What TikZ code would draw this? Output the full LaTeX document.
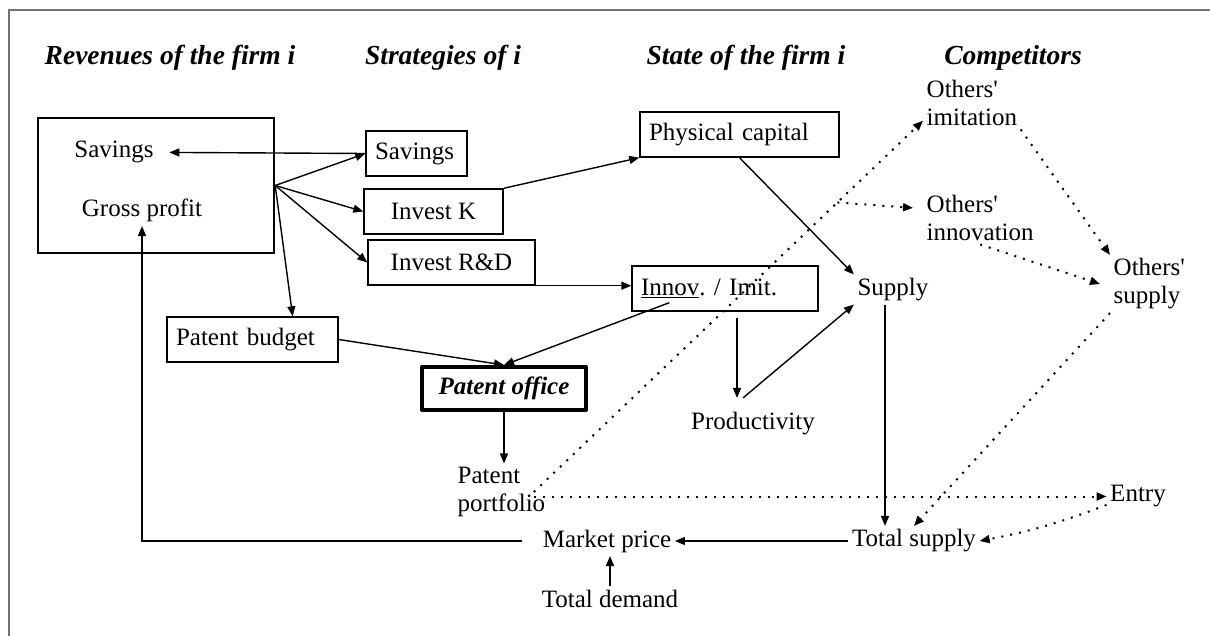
\documentclass[tikz,border=0pt]{standalone}
\usepackage{fontspec}
\setmainfont{Liberation Serif}
\usetikzlibrary{arrows.meta}

\begin{document}
\begin{tikzpicture}[x=1pt, y=-1pt,
  font=\fontsize{25}{28}\selectfont,
  line width=1.4pt,
  >={Triangle[length=10pt,width=8pt]},
  box/.style={draw, minimum height=45pt, inner xsep=9pt, inner ysep=0pt},
  txt/.style={inner sep=3pt, align=left},
  head/.style={anchor=base, font=\fontsize{27.5}{30}\selectfont\bfseries\itshape},
  dots/.style={->, dash pattern=on 2pt off 7pt, line width=2pt}]
\useasboundingbox (0,0) rectangle (1210,636);

% Frame
\draw[line width=2pt, black!55] (9,636) -- (9,10) -- (1210,10);

% Headings
\node[head] (h1) at (170,65) {Revenues of the firm i};
\node[head] (h2) at (443,65) {Strategies of i};
\node[head] (h3) at (746,65) {State of the firm i};
\node[head] (h4) at (1013,65) {Competitors};

% Revenues
\node[draw, line width=2.4pt, minimum width=236pt, minimum height=135pt] (rev) at (156,185.5) {};
\node[txt, anchor=base] (sav) at (114,158) {Savings};
\node[txt, anchor=base] (gross) at (142,217) {Gross profit};

% Strategies
\node[box, text width=83pt, align=left] (ssav) at (416.5,153.5) {Savings};
\node[box, minimum width=139pt] (invk) at (433.5,211.5) {Invest K};
\node[box, minimum width=167pt] (invrd) at (451.5,262.5) {Invest R\&D};
\node[box, text width=153pt, align=left] (pbud) at (252.5,339.5) {Patent budget};
\node[box, line width=4pt, line join=round, minimum width=164pt, minimum height=43pt,
  font=\fontsize{25}{28}\selectfont\bfseries\itshape] (poff) at (504,388.5) {Patent office};

% State of the firm
\node[box, text width=181pt, align=left] (phys) at (739.5,134.5) {Physical capital};
\node[box, text width=168pt, align=left] (innov) at (725,288.5) {\underline{Innov}.\ / Imit.};
\node[txt] (supply) at (893,289.5) {Supply};
\node[txt] (prod) at (753,424) {Productivity};
\node[txt, anchor=west] (port) at (454,492) {Patent\\portfolio};

% Competitors
\node[txt, anchor=west] (imit) at (923,103) {Others\textquotesingle\\imitation};
\node[txt, anchor=west] (oinn) at (923,218) {Others\textquotesingle\\innovation};
\node[txt, anchor=west] (osup) at (1110,284) {Others\textquotesingle\\supply};
\node[txt] (entry) at (1138,496.5) {Entry};

% Market
\node[txt] (market) at (607,541) {Market price};
\node[txt] (demand) at (610,598.5) {Total demand};
\node[txt] (tsup) at (914,541) {Total supply};

% Spending of the revenues
\draw[->] (rev.east) -- (ssav.west);
\draw[->] (ssav.west) -- ([xshift=12pt]sav.east);
\draw[->] (rev.east) -- (invk.west);
\draw[->] (rev.east) -- (invrd.west);
\draw[->] (rev.east) -- (pbud.30);
\draw[->] ([xshift=-17pt]market.west) -| (gross.south);

% Firm state
\draw[->] (invk.north east) -- (phys.south west);
\draw[->] (invrd.south east) -- (invrd.south east -| innov.west);
\draw[->] (phys.south) -- (supply.north west);
\coordinate (prodin) at ([xshift=-16pt,yshift=11pt]prod.north);
\coordinate (prodout) at ([xshift=-10pt,yshift=11pt]prod.north);
\draw[->] (innov.south -| prodin) ++(0,6) -- (prodin);
\draw[->] (prodout) -- (supply.south west);
\coordinate (supdown) at ([xshift=-8pt]supply.south);
\draw[->] (supdown) -- (supdown |- tsup.north);
\draw[->] (tsup.west) -- (market.east);
\draw[->] (demand.north) -- (demand.north |- market.south);

% Patents
\draw[->] (pbud.east) -- (poff.north);
\draw[->] ([xshift=38pt,yshift=9pt]innov.south west) -- (poff.north);
\draw[->] (poff.south) -- (poff.south |- port.north);

% Spillovers to competitors
\coordinate (pp) at ([xshift=-15pt]port.east);
\draw[dots] (pp) -- (imit.200) coordinate[pos=0.78] (br);
\draw[dots] (br) -- ([xshift=-10pt]oinn.170);
\draw[dots] (imit.south east) -- (osup.north west);
\draw[dots] (oinn.south) -- ([xshift=-10pt]osup.west);
\draw[dots] (osup.south west) -- (tsup.north);
\draw[dots] (pp |- entry.west) -- (entry.west);
\draw[dots] (entry.195) to[bend left=5] (tsup.east);
\end{tikzpicture}
\end{document}
